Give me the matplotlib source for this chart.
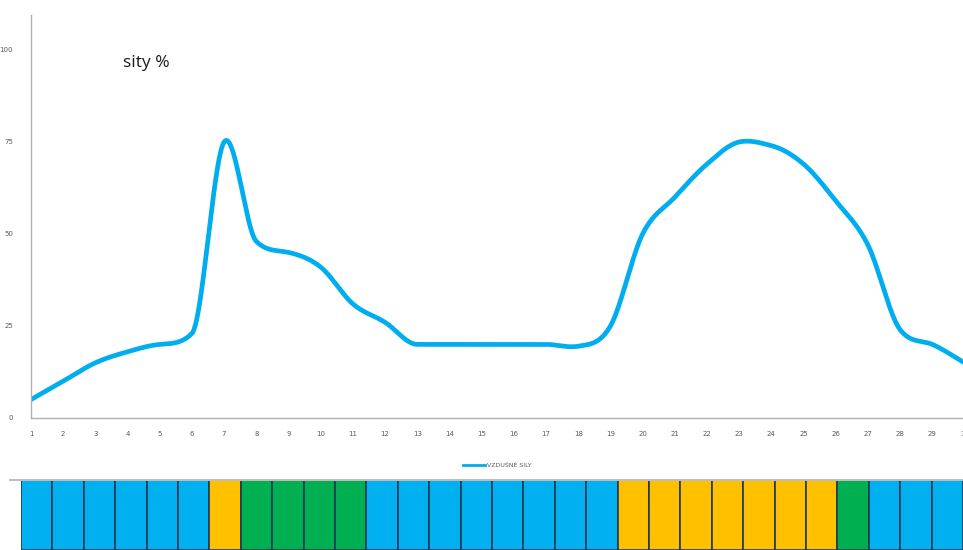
import numpy as np
import matplotlib.pyplot as plt
from matplotlib.lines import Line2D

# hourly share (%) of the air-force series
hours = list(range(1, 31))
vzdusne_sily = [5, 10, 15, 18, 20, 23, 75, 48, 45, 41, 31, 26, 20, 20, 20,
                20, 20, 19.5, 25, 50, 60, 69, 75, 74, 69, 59, 47, 24, 20, 15]

# state of each hour in the strip below the chart: 0 blue, 1 orange, 2 green
strip_state = [0, 0, 0, 0, 0, 0, 1, 2, 2, 2, 2, 0, 0, 0, 0,
               0, 0, 0, 0, 1, 1, 1, 1, 1, 1, 1, 2, 0, 0, 0]
strip_colors = ["#00B0F0", "#FFC000", "#00B050"]

y_ticks = [0, 25, 50, 75, 100]
line_color = "#00AEEF"


def smooth_line(x, y, n=50):
    """Cubic Hermite through the points; centred slopes, damped where they
    would make a short segment swing (Fritsch-Carlson style limit)."""
    x = np.asarray(x, float)
    y = np.asarray(y, float)
    h = np.diff(x)
    d = np.diff(y) / h
    m = np.empty_like(y)
    m[0], m[-1] = d[0], d[-1]
    m[1:-1] = (d[:-1] + d[1:]) / 2
    for k in range(len(d)):
        if d[k] == 0:
            m[k] = m[k + 1] = 0
            continue
        a, b = m[k] / d[k], m[k + 1] / d[k]
        s = a * a + b * b
        if s > 9:
            tau = 3 / np.sqrt(s)
            m[k] = tau * a * d[k]
            m[k + 1] = tau * b * d[k]
    t = np.linspace(0, 1, n)
    h00 = 2 * t ** 3 - 3 * t ** 2 + 1
    h10 = t ** 3 - 2 * t ** 2 + t
    h01 = -2 * t ** 3 + 3 * t ** 2
    h11 = t ** 3 - t ** 2
    xs, ys = [], []
    for k in range(len(d)):
        xs.append(x[k] + t * h[k])
        ys.append(h00 * y[k] + h10 * h[k] * m[k] + h01 * y[k + 1] + h11 * h[k] * m[k + 1])
    return np.concatenate(xs), np.concatenate(ys)


fig = plt.figure(figsize=(9.63, 5.5), dpi=100)
W, H = 963, 550

# main line chart
ax = fig.add_axes([31 / W, (H - 418) / H, (964.5 - 31) / W, (418 - 15) / H])
sx, sy = smooth_line(hours, vzdusne_sily)
ax.plot(sx, sy, color=line_color, lw=3.4, solid_capstyle="round")
ax.set_xlim(1, 30)
ax.set_ylim(0, 109.5)
ax.set_xticks(hours)
ax.set_yticks(y_ticks)
ax.tick_params(length=0, labelsize=5, labelcolor="#595959")
ax.tick_params(axis="x", pad=9)
ax.tick_params(axis="y", pad=13)
for side in ("top", "right"):
    ax.spines[side].set_visible(False)
for side in ("left", "bottom"):
    ax.spines[side].set_color("#b0b0b0")
    ax.spines[side].set_linewidth(1.0)

fig.text(123 / W, 1 - 63 / H, "sity %", fontsize=12.5, family="Open Sans",
         va="center", ha="left", color="#1a1a1a")

# legend under the axis
fig.add_artist(Line2D([463 / W, 485 / W], [1 - 465 / H] * 2, color=line_color, lw=2))
fig.text(487 / W, 1 - 465 / H, "VZDUŠNÉ SÍLY", fontsize=4.5, color="#595959",
         va="center", ha="left")

# colour strip of hourly states
fig.add_artist(Line2D([10 / W, 1.0], [1 - 480 / H] * 2, color="#b0b0b0", lw=1.2))
sax = fig.add_axes([21 / W, 0, (W - 21) / W, (H - 481) / H])
sax.bar(hours, [2] * len(hours), width=1.0,
        color=[strip_colors[s] for s in strip_state],
        edgecolor="#1f3b57", linewidth=1.2)
sax.set_xlim(0.5, 30.5)
sax.set_ylim(0, 1)
sax.axis("off")

fig.savefig("out.png", dpi=100)
